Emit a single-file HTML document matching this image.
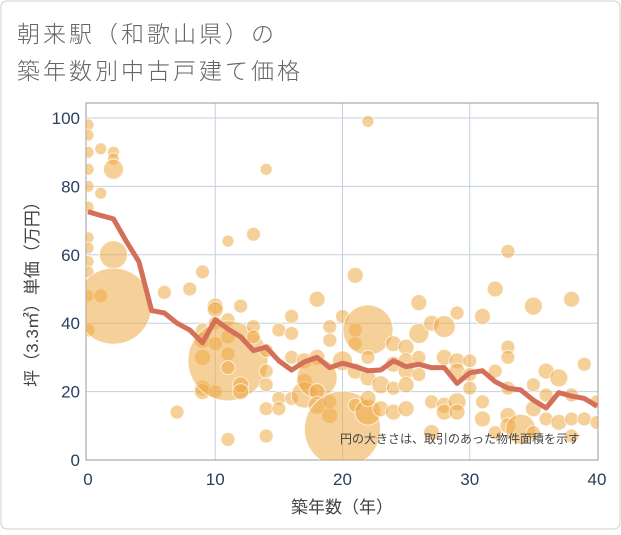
<!DOCTYPE html>
<html><head><meta charset="utf-8"><style>
html,body{margin:0;padding:0;background:#fff;}
svg text{font-family:"Liberation Sans","Noto Sans CJK JP",sans-serif;}
</style></head><body>
<svg width="621" height="530" viewBox="0 0 621 530">
<rect x="1" y="1" width="619" height="528" rx="6" fill="#fff" stroke="#d0d0d0"/>
<text x="17" y="42" font-size="23" letter-spacing="3" fill="#666" font-weight="300">朝来駅（和歌山県）の</text>
<text x="17" y="79" font-size="23" letter-spacing="3" fill="#666" font-weight="300">築年数別中古戸建て価格</text>
<defs><clipPath id="pc"><rect x="86" y="103" width="512" height="357"/></clipPath></defs>
<g id="grid"></g>
<rect x="86" y="103" width="512" height="357" fill="none" stroke="#999" stroke-width="1"/>
<g id="bubbles" clip-path="url(#pc)"></g>
<g id="line" clip-path="url(#pc)"></g>
<g id="ticks"></g>
<text x="460" y="443" font-size="12" fill="#444" text-anchor="middle">円の大きさは、取引のあった物件面積を示す</text>
<text x="342" y="513" font-size="17" fill="#444" text-anchor="middle">築年数（年）</text>
<text transform="translate(38,290) rotate(-90)" font-size="17" fill="#444" text-anchor="middle">坪（3.3㎡）単価（万円）</text>
</svg>
<script>
const xTicks=[0,10,20,30,40];
const yTicks=[0,20,40,60,80,100];
const lineYears=[0,1,2,3,4,5,6,7,8,9,10,11,12,13,14,15,16,17,18,19,20,21,22,23,24,25,26,27,28,29,30,31,32,33,34,35,36,37,38,39,40];
const lineValues=[72.6,71.5,70.5,64,58,43.7,43,40,38,34.3,41,38.3,36,32,33,29,26.3,28.7,30,27,28.3,27.3,26.1,26.3,29,27.3,28,27,27,22.4,25.5,26.1,22.9,21,20.5,17.5,15.2,19.7,18.7,18,15.8];
const bubbleYears=[0,0,0,0,0,0,0,0,0,0,0,0,1,1,1,2,2,2,2,2,6,7,8,9,9,9,9,9,9,10,10,10,10,10,11,11,11,11,11,11,11,12,12,12,13,13,13,14,14,14,14,14,14,15,15,15,16,16,16,16,17,17,17,18,18,18,18,18,19,19,19,19,20,20,20,21,21,21,21,21,22,22,22,22,22,22,23,23,24,24,24,24,25,25,25,25,25,26,26,26,26,27,27,27,28,28,28,28,29,29,29,29,29,30,30,30,31,31,31,32,32,32,33,33,33,33,33,33,34,35,35,35,35,36,36,36,37,37,38,38,38,38,39,39,40,40];
const bubbleValues=[98,95,90,85,80,74,65,62,58,55,48,38,91,78,48,90,88,85,60,45,49,14,50,55,38,35,30,21,20,45,44,40,34,20,64,41,36,31,29,27,6,45,22,20,66,39,36,85,32,26,22,15,7,38,18,15,42,37,30,18,29,23,19,47,30,24,20,16,39,35,13,17,42,29,9,54,38,34,26,16,99,38,30,24,14,18,22,15,34,28,21,14,33,29,26,22,15,46,37,30,25,40,8,17,39,30,16,14,43,29,26,17,14,29,25,21,42,17,12,50,26,8,61,33,30,21,13,10,9,45,22,15,8,26,19,12,24,11,47,19,12,7,28,12,17,11];
const bubbleSizes=[6,6,6,6,6,6,6,6,6,6,6,7,6,6,7,6,6,10,14,38,7,7,7,7,7,8,8,8,8,8,8,7,7,7,6,7,7,7,40,7,7,7,8,8,7,7,7,6,7,7,7,7,7,7,7,7,7,7,7,7,8,8,13,8,8,20,8,9,7,7,8,7,7,10,38,8,7,7,8,7,6,25,7,8,13,8,9,8,8,8,7,8,8,8,8,8,8,8,10,7,7,8,8,7,11,8,8,8,7,8,8,9,8,7,7,7,8,7,8,8,7,7,7,7,7,7,8,8,15,9,7,8,7,8,7,7,9,8,8,7,7,7,7,7,7,7];
const X=t=>88+t*(509/40);
const Y=v=>460-v*3.42;
const NS='http://www.w3.org/2000/svg';
function mk(tag,attrs,parent){const e=document.createElementNS(NS,tag);for(const k in attrs)e.setAttribute(k,attrs[k]);parent.appendChild(e);return e;}
const grid=document.getElementById('grid'),ticks=document.getElementById('ticks');
xTicks.forEach(t=>{
  if(t>0&&t<40){const l=mk('line',{x1:X(t),x2:X(t),y1:103,y2:460,stroke:'#c5d0dc','stroke-width':1},grid);
  
  }
  const tx=mk('text',{x:X(t),y:485,'font-size':17,fill:'#2a3f5f','text-anchor':'middle'},ticks);
  tx.textContent=t;
  
  
});
yTicks.forEach(v=>{
  if(v>0){const l=mk('line',{x1:86,x2:598,y1:Y(v),y2:Y(v),stroke:'#c5d0dc','stroke-width':1},grid);
  
  }
  const tx=mk('text',{x:80,y:Y(v)+6,'font-size':17,fill:'#2a3f5f','text-anchor':'end'},ticks);
  tx.textContent=v;
  
  
});
const bg=document.getElementById('bubbles');
bubbleYears.forEach((t,i)=>{
  const c=mk('circle',{cx:X(t),cy:Y(bubbleValues[i]),r:bubbleSizes[i],fill:'rgba(238,170,70,0.55)',stroke:'rgba(255,255,255,0.7)','stroke-width':1},bg);
  
  
});
const lg=document.getElementById('line');
const p=mk('polyline',{points:lineYears.map((t,i)=>X(t)+','+Y(lineValues[i])).join(' '),fill:'none',stroke:'#d4705a','stroke-width':5,'stroke-linejoin':'round'},lg);


</script>
</body></html>
